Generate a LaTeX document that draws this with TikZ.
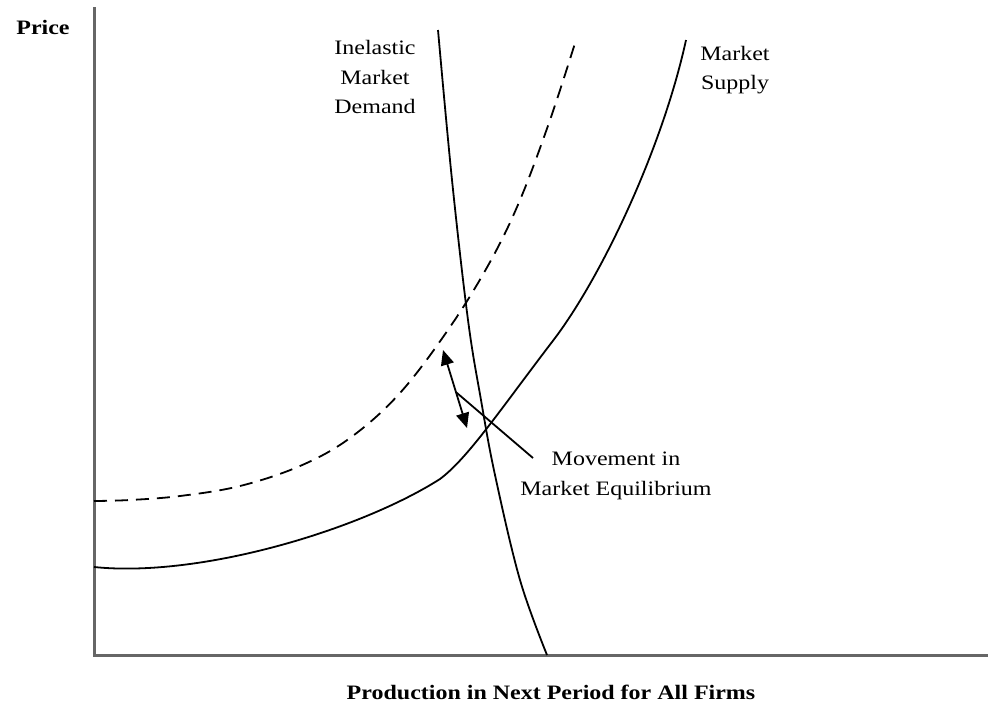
\documentclass[tikz,border=0pt]{standalone}
\usepackage{fontspec}
\setmainfont{Liberation Serif}[FakeStretch=1.17]
\usetikzlibrary{arrows.meta,calc}
\begin{document}
\begin{tikzpicture}[x=1pt,y=-1pt,
  axisline/.style={line width=3pt,black!60},
  curve/.style={line width=1.8pt,black},
  dashcurve/.style={line width=1.8pt,black,dash pattern=on 13pt off 8pt},
  lbl/.style={font=\fontsize{20.5}{29.5}\selectfont,align=center,inner sep=0pt},
  blbl/.style={font=\fontsize{20.5}{29.5}\selectfont\bfseries,align=center,inner sep=0pt},
  movearrow/.style={line width=1.8pt,{Triangle[length=15pt,width=13pt]}-{Triangle[length=15pt,width=13pt]}},
  leader/.style={line width=1.8pt}
]
\useasboundingbox (0,0) rectangle (990,710);
% axes
\coordinate (ytop) at (94,7);
\coordinate (orig) at (94,655);
\coordinate (xend) at (988,655);
\draw[axisline] (ytop) -- (orig) -- (xend);
% market demand
\draw[curve] plot[smooth,tension=0.6] coordinates {(438,30) (452,180) (468,320) (481,400) (495,475) (520,580) (547,655)};
% shifted supply (dashed)
\draw[dashcurve] plot[smooth,tension=0.6] coordinates {(94,501) (130,500) (180,496) (240,486) (300,466) (350,438) (400,393) (450,327) (490,262) (520,200) (550,120) (576,40)};
% market supply
\coordinate (s0) at (94,567);
\coordinate (s1) at (440,479);
\coordinate (s2) at (552,342);
\coordinate (s3) at (686,40);
\draw[curve] (s0) .. controls (200,578) and (360,530) .. (s1)
  .. controls (468,458) and (500,410) .. (s2)
  .. controls (600,280) and (662,150) .. (s3);
% movement arrow
\coordinate (up) at (443,350);
\coordinate (dn) at (467,428);
\draw[movearrow] (up) -- (dn);
% labels
\node[blbl] (price) at (43,27) {Price};
\node[blbl] (xlabel) at (551,692) {Production in Next Period for All Firms};
\node[lbl] (demand) at (375,77) {Inelastic\\Market\\Demand};
\node[lbl] (supply) at (735,70) {Market\\Supply};
\node[lbl] (move) at (616,476) {Movement in\\Market Equilibrium};
\coordinate (lstart) at ($(up)!0.54!(dn)$);
\coordinate (lend) at (533,458);
\draw[leader] (lstart) -- (lend);
\end{tikzpicture}
\end{document}
